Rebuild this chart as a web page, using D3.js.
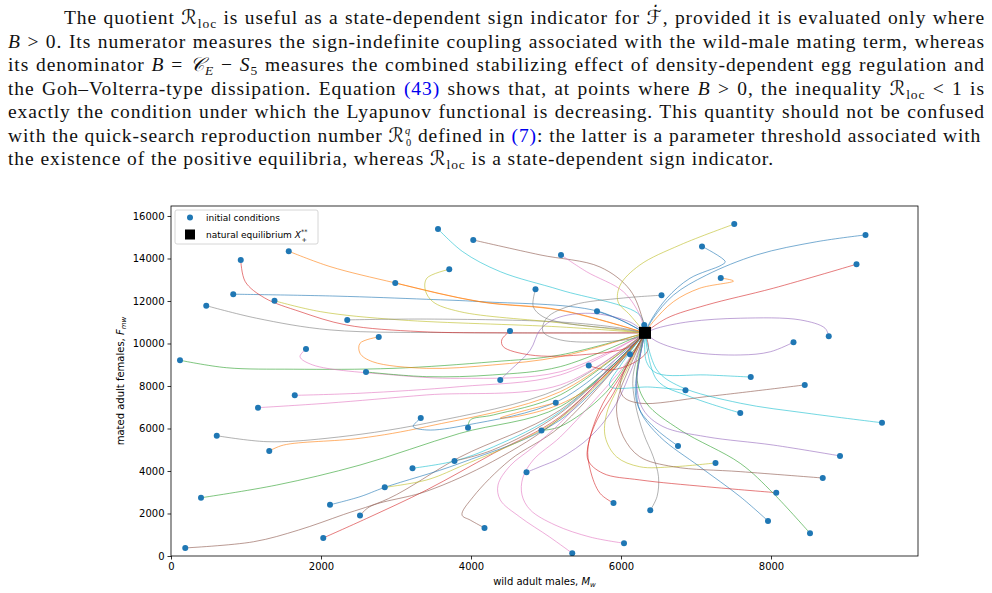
<!DOCTYPE html>
<html><head><meta charset="utf-8">
<script src="https://cdn.jsdelivr.net/npm/d3@7"></script>
<style>
html,body{margin:0;padding:0;background:#fff;}
svg{display:block;}
</style></head>
<body>
<svg id="fig" width="992" height="593"></svg>
<script>
// ---------------- data ----------------
const xTicks = [0, 2000, 4000, 6000, 8000];
const yTicks = [0, 2000, 4000, 6000, 8000, 10000, 12000, 14000, 16000];
const xDomain = [0, 9960];
const yDomain = [0, 16470];
const equilibrium = [6320, 10500];
const xLabel = "wild adult males, ";
const yLabel = "mated adult females, ";
const legendLabels = ["initial conditions", "natural equilibrium "];

// trajectory colours (matplotlib tab10 names), one per trajectory
const trajColors = [
 "green","brown","green","gray","gray","blue","red","pink","orange","olive",
 "orange","pink","pink","red","blue","gray","brown","green","orange","olive",
 "orange","cyan","blue","cyan","olive","brown","green","brown","brown","purple",
 "red","purple","gray","green","orange","pink","pink","red","blue","red",
 "pink","green","olive","gray","gray","blue","cyan","blue","olive","orange",
 "olive","cyan","cyan","blue","red","purple","brown","green","brown","purple",
 "purple","red","blue","cyan"
];
// each trajectory: first point = initial condition, ends at the equilibrium
const trajectories = [
 [[120,9210],[740,8860],[1630,8790],[2960,8830],[4290,9140],[5190,9460]],
 [[190,380],[1100,670],[1700,1220],[2300,1950],[2900,2700],[3850,4650],[5190,6870]],
 [[400,2740],[1410,3340],[2520,4280],[3850,5770],[5190,7030]],
 [[470,11780],[1140,11190],[2120,10640],[3850,10510],[5200,10500]],
 [[610,5660],[1280,5380],[2080,5540],[3410,6250],[5190,7890]],
 [[830,12320],[2200,12230],[3410,12080],[4120,11970],[5680,11530]],
 [[930,13930],[990,12910],[1250,12140],[1720,11500],[2340,10870],[3320,10560],[4520,10500]],
 [[1160,6980],[2080,7190],[3410,7580],[5190,8050]],
 [[1310,4940],[1500,5220],[2520,5540],[3410,6090],[5190,7730]],
 [[1380,12010],[1990,11500],[3050,11110],[5190,10780]],
 [[1570,14340],[2120,13620],[2990,12850],[4120,11970],[5190,11580]],
 [[1650,7560],[2520,7660],[3850,7970],[5190,8520]],
 [[1800,9740],[1720,9380],[1890,8990],[2960,8520],[3850,8360],[5190,8670]],
 [[2030,850],[2610,1770],[3410,3110],[4300,4830],[5190,6560]],
 [[2120,2410],[2520,2790],[2850,3230],[3850,4360],[5190,6400]],
 [[2350,11110],[3410,11150],[5190,11010],[5990,10730]],
 [[2520,1900],[2650,2320],[3410,3050],[4290,4450],[5190,6500]],
 [[2600,8660],[3410,8440],[4290,8520],[5190,8910]],
 [[2770,10310],[2520,10010],[2520,9540],[2690,9140],[3410,8830],[4290,8990],[5190,9380]],
 [[2850,3230],[3410,3580],[3850,4200],[5190,6480]],
 [[2990,12850],[3600,12330],[4200,11920],[5190,11560]],
 [[3220,4130],[3780,4470],[4300,5140],[5190,6790]],
 [[3330,6490],[3230,6090],[3410,5930],[3940,6160],[5190,7340]],
 [[3560,15390],[3890,14320],[4390,13380],[5190,12520],[6250,11340]],
 [[3710,13490],[3410,13070],[3390,12520],[3490,11970],[3850,11500],[5190,10970]],
 [[3780,4470],[4290,4990],[5190,6720]],
 [[3960,6040],[3990,6400],[4300,6640],[5190,7580]],
 [[4030,14870],[4920,14170],[5720,13600],[6120,12520],[6290,11110]],
 [[4180,1320],[3990,1690],[3880,1930],[4030,2790],[4520,4520],[5190,6090]],
 [[4390,8280],[4480,8600],[4790,9690],[4920,10640],[5140,11190],[5590,11420],[6120,11010]],
 [[4520,10590],[4410,10170],[4430,9850],[4790,9460],[5450,9460],[6120,9850]],
 [[4740,3940],[4920,4200],[5190,4610],[5590,5610],[5940,7190]],
 [[4860,12550],[4830,11730],[4960,11260],[5230,10970],[6080,10640]],
 [[4940,5910],[5190,6090],[5800,7700]],
 [[5130,7210],[4650,6780],[4390,6490],[4650,6590],[5190,7150],[5720,8280]],
 [[5200,14170],[5540,13380],[6030,12440],[6250,11340]],
 [[5350,130],[5050,890],[4650,1840],[4390,2640],[4360,3340],[4520,4240],[4830,5130],[5190,6260],[5590,7810],[5920,9220]],
 [[5570,8960],[5850,8750],[6190,9130],[6360,9690],[6350,10170]],
 [[5680,11520],[6000,11100]],
 [[5900,2490],[5720,2950],[5590,4050],[5560,5140],[5680,6400],[5900,7660],[6030,8600]],
 [[6040,600],[5590,890],[5120,1460],[4790,2170],[4680,2870],[4690,3670],[4830,4520],[5190,5600],[5650,7340],[6050,8990]],
 [[6120,9490],[6220,9900]],
 [[6310,10870]],
 [[6390,2150],[6480,2790],[6500,3730],[6430,4670],[6300,5770],[6190,7190],[6160,8440]],
 [[6540,12270],[6030,12140],[5360,11810],[5010,11200],[4960,10560],[5190,10170],[5810,10090],[6250,10320]],
 [[6760,5180],[6480,5930],[6250,6870],[6190,7810]],
 [[6860,7800],[6390,7950],[5850,8000],[6000,9000]],
 [[7080,14570],[7390,13850],[7340,13690],[6920,13070],[6610,12130],[6390,11030]],
 [[7260,4380],[6700,4200],[6250,4200],[5940,4670],[5790,5610],[5810,6720],[5990,8130]],
 [[7330,13080],[7500,12940],[7050,12600],[6700,11970],[6430,11030]],
 [[7510,15620],[6790,14640],[6250,13690],[5990,12750],[5960,11970],[6120,11340]],
 [[7590,6730],[6920,7500],[6480,8280]],
 [[7730,8420],[7140,8520],[6480,8600],[6340,9140]],
 [[7960,1650],[7590,2790],[7050,4200],[6520,5610],[6250,6870],[6210,8280]],
 [[8070,2980],[7140,3260],[6250,3580],[5760,3890],[5560,4520],[5590,5610],[5760,7190],[5990,8440]],
 [[8300,10060],[7990,9610],[7590,9460],[6920,9610],[6480,10090]],
 [[8450,8050],[7140,7500],[6250,7190],[6030,7500],[5990,8130]],
 [[8520,1070],[8030,2950],[7590,4360],[6790,5930],[6340,7190],[6210,8440]],
 [[8690,3670],[7590,3970],[6700,4200],[6250,4670],[6030,5610],[5940,6870],[5990,7810],[6080,8600]],
 [[8770,10340],[8720,10720],[8390,11110],[7590,11190],[6920,11030],[6480,10720]],
 [[8920,4710],[8030,5220],[7140,5610],[6560,6090],[6300,6870],[6210,8130]],
 [[9140,13730],[8030,12600],[7140,11810],[6610,11190]],
 [[9260,15110],[8610,14790],[7810,14170],[7140,13220],[6700,12280],[6430,11190]],
 [[9480,6270],[8480,6720],[7590,7190],[6790,7970],[6480,8750]]
];

// paragraph text: [text, kind]
const paragraph = [
 [["The quotient ","n"],["ℛ","cal"],["loc","sub"],[" is useful as a state-dependent sign indicator for ","n"],["ℱ\u0307","cal"],[", provided it is evaluated only where","n"]],
 [["B","i"],[" > 0. Its numerator measures the sign-indefinite coupling associated with the wild-male mating term, whereas","n"]],
 [["its denominator ","n"],["B","i"],[" = ","n"],["𝒞","cal"],["E","subi"],[" − ","n"],["S","i"],["5","sub"],[" measures the combined stabilizing effect of density-dependent egg regulation and","n"]],
 [["the Goh–Volterra-type dissipation. Equation ","n"],["(43)","link"],[" shows that, at points where ","n"],["B","i"],[" > 0, the inequality ","n"],["ℛ","cal"],["loc","sub"],[" < 1 is","n"]],
 [["exactly the condition under which the Lyapunov functional is decreasing. This quantity should not be confused","n"]],
 [["with the quick-search reproduction number ","n"],["ℛ","cal"],["q|0","subsup"],[" defined in ","n"],["(7)","link"],[": the latter is a parameter threshold associated with","n"]],
 [["the existence of the positive equilibria, whereas ","n"],["ℛ","cal"],["loc","sub"],[" is a state-dependent sign indicator.","n"]]
];

// ---------------- drawing ----------------
const tab10 = {blue:"#1f77b4",orange:"#ff7f0e",green:"#2ca02c",red:"#d62728",purple:"#9467bd",
  brown:"#8c564b",pink:"#e377c2",gray:"#7f7f7f",olive:"#bcbd22",cyan:"#17becf"};
const svg = d3.select("#fig");

// paragraph
const pg = svg.append("g").attr("font-family","'Liberation Serif','DejaVu Serif',serif").attr("fill","#111");
const FS = 19.5, SM = 13.5, SS = 10.5;
const lineY = [24, 47.5, 71, 94.5, 118, 141.5, 165];
const texts = [];
paragraph.forEach((segs, li) => {
  const x0 = li === 0 ? 64 : 8;
  const t = pg.append("text").attr("x", x0).attr("y", lineY[li]).attr("font-size", FS).style("white-space","pre");
  let off = 0;
  let full = "";
  segs.forEach(([s,k]) => {
    if (k === "subsup") {
      const [sup, sub] = s.split("|");
      const a = t.append("tspan").text(sup).attr("font-size", SS).attr("font-style","italic").attr("dy", -7.5 - off);
      const w = a.node().getComputedTextLength();
      t.append("tspan").text(sub).attr("font-size", SS).attr("dx", -w).attr("dy", 12);
      off = 4.5;
      full += sup + sub;
      return;
    }
    const target = (k === "sub" || k === "subi") ? 4 : 0;
    const ts = t.append("tspan").text(s).attr("dy", target - off);
    off = target;
    if (k === "sub" || k === "subi") ts.attr("font-size", SM);
    if (k === "i" || k === "subi") ts.attr("font-style","italic");
    if (k === "cal") ts.attr("font-family","'DejaVu Sans','DejaVu Serif',serif").attr("font-style","italic");
    if (k === "link") ts.attr("fill","#0000ee");
    full += s;
  });
  texts.push({t, x0, full});
});
// common letter spacing derived from the unjustified last line, then justify the others
const last = texts[texts.length - 1];
const natLast = last.t.node().getComputedTextLength();
const LS = Math.max(0, Math.min(1.2, (774 - last.x0 - natLast) / last.full.length));
texts.forEach((o, i) => {
  o.t.attr("letter-spacing", LS);
  if (i < texts.length - 1) {
    const nat = o.t.node().getComputedTextLength();
    const nsp = (o.full.match(/ /g) || []).length;
    o.t.attr("word-spacing", Math.max(0, (985 - o.x0 - nat) / nsp));
  }
});

// chart
const x = d3.scaleLinear().domain(xDomain).range([171, 918]);
const y = d3.scaleLinear().domain(yDomain).range([556, 206]);
const cg = svg.append("g").attr("font-family","'DejaVu Sans',sans-serif");

const clipId = "plotclip";
cg.append("clipPath").attr("id", clipId).append("rect")
  .attr("x", x(xDomain[0])).attr("y", y(yDomain[1]))
  .attr("width", x(xDomain[1]) - x(xDomain[0])).attr("height", y(yDomain[0]) - y(yDomain[1]));

const line = d3.line().x(d => x(d[0])).y(d => y(d[1])).curve(d3.curveCatmullRom.alpha(0.5));
const lg = cg.append("g").attr("clip-path", `url(#${clipId})`);
trajectories.forEach((tr, i) => {
  lg.append("path").attr("d", line(tr.concat([equilibrium])))
    .attr("fill","none").attr("stroke", tab10[trajColors[i]])
    .attr("stroke-width", 1).attr("stroke-opacity", 0.6);
});
lg.selectAll("circle.ic").data(trajectories).join("circle").attr("class","ic")
  .attr("cx", d => x(d[0][0])).attr("cy", d => y(d[0][1])).attr("r", 3).attr("fill", tab10.blue);
lg.append("rect").attr("x", x(equilibrium[0]) - 6).attr("y", y(equilibrium[1]) - 6)
  .attr("width", 12).attr("height", 12).attr("fill", "#000");

// axes
const xAxis = cg.append("g").attr("transform", `translate(0,${y(yDomain[0])})`)
  .call(d3.axisBottom(x).tickValues(xTicks).tickFormat(d3.format("d")).tickSize(3.5).tickPadding(3));
const yAxis = cg.append("g").attr("transform", `translate(${x(xDomain[0])},0)`)
  .call(d3.axisLeft(y).tickValues(yTicks).tickFormat(d3.format("d")).tickSize(3.5).tickPadding(3));
[xAxis, yAxis].forEach(a => {
  a.select(".domain").remove();
  a.selectAll("text").attr("font-size", 10).attr("fill", "#000").attr("font-family","'DejaVu Sans',sans-serif");
  a.selectAll("line").attr("stroke", "#000").attr("stroke-width", 0.8);
});
cg.append("rect").attr("x", x(xDomain[0])).attr("y", y(yDomain[1]))
  .attr("width", x(xDomain[1]) - x(xDomain[0])).attr("height", y(yDomain[0]) - y(yDomain[1]))
  .attr("fill","none").attr("stroke","#000").attr("stroke-width",0.8);

// axis labels
const xl = cg.append("text").attr("x", (x(xDomain[0]) + x(xDomain[1])) / 2).attr("y", 585)
  .attr("text-anchor","middle").attr("font-size", 10);
xl.append("tspan").text(xLabel);
xl.append("tspan").text("M").attr("font-style","italic");
xl.append("tspan").text("w").attr("font-style","italic").attr("font-size", 7).attr("dy", 2);

const yl = cg.append("text").attr("transform", `translate(124,${(y(yDomain[0]) + y(yDomain[1])) / 2}) rotate(-90)`)
  .attr("text-anchor","middle").attr("font-size", 10);
yl.append("tspan").text(yLabel);
yl.append("tspan").text("F").attr("font-style","italic");
yl.append("tspan").text("mw").attr("font-style","italic").attr("font-size", 7).attr("dy", 2);

// legend
const leg = cg.append("g").attr("transform", "translate(175,210)");
leg.append("rect").attr("x", 0).attr("y", 0).attr("width", 143).attr("height", 34).attr("rx", 2)
  .attr("fill", "#fff").attr("fill-opacity", 0.8).attr("stroke", "#ccc").attr("stroke-width", 0.8);
leg.append("circle").attr("cx", 15).attr("cy", 7.5).attr("r", 3).attr("fill", tab10.blue);
leg.append("rect").attr("x", 10).attr("y", 19.5).attr("width", 10).attr("height", 10).attr("fill", "#000");
leg.append("text").attr("x", 31).attr("y", 10.5).attr("font-size", 9).text(legendLabels[0]);
const l2 = leg.append("text").attr("x", 31).attr("y", 27.5).attr("font-size", 9);
l2.append("tspan").text(legendLabels[1]);
l2.append("tspan").text("X").attr("font-style","italic");
l2.append("tspan").text("**").attr("font-size", 6.5).attr("dy", -4);
l2.append("tspan").text("+").attr("font-size", 6.5).attr("dx", -6).attr("dy", 8);
</script>
</body></html>
